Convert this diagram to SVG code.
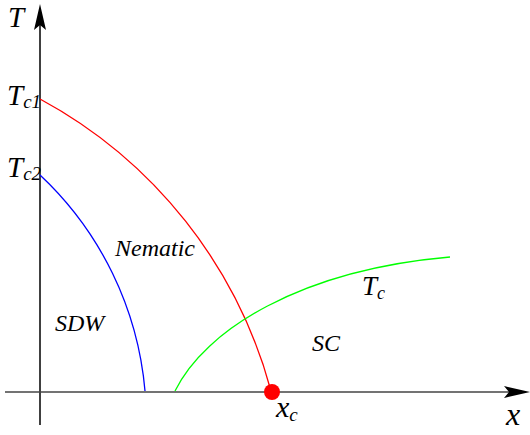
<svg xmlns="http://www.w3.org/2000/svg" width="530" height="435" viewBox="0 0 530 435">
<rect width="530" height="435" fill="#fff"/>
<g id="axes" fill="none" stroke-width="1.5">
<line x1="40" y1="425" x2="40" y2="20" stroke="#000"/>
<path d="M40,4 L46,30 L40,25 L34,30 Z" fill="#000" stroke="none"/>
<line x1="5" y1="392" x2="515" y2="392" stroke="#444"/>
<path d="M530,392 L504,398 L509,392 L504,386 Z" fill="#000" stroke="none"/>
</g>
<g id="connectors" fill="none" stroke-width="1.3">
<path id="red" stroke="#ff0000" d="M40,99 A471,471 0 0 1 271,391"/>
<path id="blue" stroke="#0000ff" d="M40,175 A335.6,335.6 0 0 1 145,391"/>
<path id="green" stroke="#00ff00" d="M175,391 C205,330 300,270 450,257"/>
</g>
<g id="xc-point"><circle cx="272" cy="392" r="8" fill="#ff0000"/></g>
<text x="8" y="27" style="font-family:'Liberation Serif','DejaVu Serif',serif;font-style:italic;font-size:29px">T</text>
<text x="7" y="105" style="font-family:'Liberation Serif','DejaVu Serif',serif;font-style:italic;font-size:29px">T<tspan dy="3" style="font-size:19px">c1</tspan></text>
<text x="7" y="177" style="font-family:'Liberation Serif','DejaVu Serif',serif;font-style:italic;font-size:29px">T<tspan dy="3" style="font-size:19px">c2</tspan></text>
<text x="115" y="256" style="font-family:'Liberation Serif','DejaVu Serif',serif;font-style:italic;font-size:24px">Nematic</text>
<text x="55" y="331" style="font-family:'Liberation Serif','DejaVu Serif',serif;font-style:italic;font-size:24px">SDW</text>
<text x="312" y="351" style="font-family:'Liberation Serif','DejaVu Serif',serif;font-style:italic;font-size:24px">SC</text>
<text x="362" y="295" style="font-family:'Liberation Serif','DejaVu Serif',serif;font-style:italic;font-size:27px">T<tspan dy="4" style="font-size:18px">c</tspan></text>
<text x="276" y="417" style="font-family:'Liberation Serif','DejaVu Serif',serif;font-style:italic;font-size:30px">x<tspan dy="4" style="font-size:19px">c</tspan></text>
<text x="506" y="425" style="font-family:'Liberation Serif','DejaVu Serif',serif;font-style:italic;font-size:32px">x</text>
</svg>
